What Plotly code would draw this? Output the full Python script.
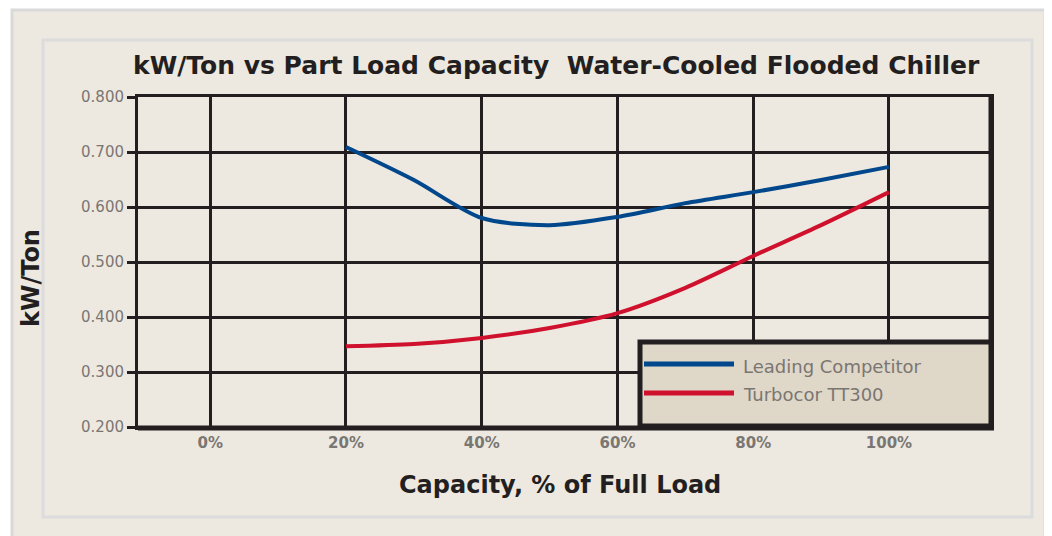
import plotly.graph_objects as go

# ---- data ----
capacity_pct = [20, 30, 40, 50, 60, 70, 80, 90, 100]
leading_competitor = [0.709, 0.649, 0.580, 0.567, 0.582, 0.607, 0.627, 0.649, 0.673]
turbocor_tt300 = [0.347, 0.351, 0.362, 0.380, 0.407, 0.453, 0.511, 0.567, 0.627]
series_names = ["Leading Competitor", "Turbocor TT300"]
x_ticks = [0, 20, 40, 60, 80, 100]
x_tick_labels = ["0%", "20%", "40%", "60%", "80%", "100%"]
y_ticks = [0.2, 0.3, 0.4, 0.5, 0.6, 0.7, 0.8]

title_text = "kW/Ton vs Part Load Capacity  Water-Cooled Flooded Chiller"
x_title = "Capacity, % of Full Load"
y_title = "kW/Ton"

BLUE = "#00478c"
RED = "#cf112d"
INK = "#231f20"
BEIGE = "#ede9e1"
LEG_BG = "#dfd7c8"
TICK_GRAY = "#7a7672"

# the page body has an 8px margin; the figure starts at (8, 8)
OFF = 8
W, H = 1052, 536
L, R, T, B = 138, 991, 97, 427


def px(x):
    return (x - L) / (R - L)


def py(y):
    return (B - y) / (B - T)


fig = go.Figure()
fig.add_trace(go.Scatter(x=capacity_pct, y=leading_competitor, mode="lines",
                         name=series_names[0],
                         line=dict(color=BLUE, width=4, shape="spline", smoothing=0.8)))
fig.add_trace(go.Scatter(x=capacity_pct, y=turbocor_tt300, mode="lines",
                         name=series_names[1],
                         line=dict(color=RED, width=4, shape="spline", smoothing=0.8)))

shapes = [
    # outer page frame
    dict(type="rect", xref="paper", yref="paper", x0=px(12), x1=px(1045), y0=py(545), y1=py(10),
         fillcolor=BEIGE, line=dict(color="#d9d9d9", width=3), layer="below"),
    # inner panel frame
    dict(type="rect", xref="paper", yref="paper", x0=px(43), x1=px(1032), y0=py(517), y1=py(40),
         fillcolor="rgba(0,0,0,0)", line=dict(color="#dcdcdc", width=3), layer="below"),
    # thicker bottom and right frame
    dict(type="line", xref="paper", yref="paper", x0=0, x1=px(994), y0=py(428), y1=py(428),
         line=dict(color=INK, width=5), layer="above"),
    dict(type="line", xref="paper", yref="paper", x0=px(991), x1=px(991), y0=py(430), y1=py(96),
         line=dict(color=INK, width=5), layer="above"),
    # legend box
    dict(type="rect", xref="paper", yref="paper", x0=px(640), x1=px(991), y0=py(426), y1=py(342),
         fillcolor=LEG_BG, line=dict(color=INK, width=5), layer="above"),
    dict(type="line", xref="paper", yref="paper", x0=px(644), x1=px(734), y0=py(364), y1=py(364),
         line=dict(color=BLUE, width=5), layer="above"),
    dict(type="line", xref="paper", yref="paper", x0=px(644), x1=px(734), y0=py(393), y1=py(393),
         line=dict(color=RED, width=5), layer="above"),
]

annotations = [
    dict(text=title_text, xref="paper", yref="paper", x=px(556), y=py(66), showarrow=False,
         font=dict(family="DejaVu Sans", size=25, color=INK, weight="bold"),
         xanchor="center", yanchor="middle"),
    dict(text=x_title, xref="paper", yref="paper", x=px(560), y=py(485), showarrow=False,
         font=dict(family="DejaVu Sans", size=24, color=INK, weight="bold"),
         xanchor="center", yanchor="middle"),
    dict(text=y_title, xref="paper", yref="paper", x=px(31), y=py(278), showarrow=False, textangle=-90,
         font=dict(family="DejaVu Sans", size=24, color=INK, weight="bold"),
         xanchor="center", yanchor="middle"),
    dict(text=series_names[0], xref="paper", yref="paper", x=px(741), y=py(366), showarrow=False,
         font=dict(family="DejaVu Sans", size=18, color=TICK_GRAY), xanchor="left", yanchor="middle"),
    dict(text=series_names[1], xref="paper", yref="paper", x=px(741), y=py(394), showarrow=False,
         font=dict(family="DejaVu Sans", size=18, color=TICK_GRAY), xanchor="left", yanchor="middle"),
]

fig.update_layout(
    width=W - OFF, height=H - OFF,
    margin=dict(l=L - OFF, r=W - R, t=T - OFF, b=H - B, pad=0),
    paper_bgcolor="white",
    plot_bgcolor=BEIGE,
    showlegend=False,
    shapes=shapes,
    annotations=annotations,
    font=dict(family="DejaVu Sans", color=TICK_GRAY),
)
fig.update_xaxes(range=[-10.64, 115.03], tickvals=x_ticks, ticktext=x_tick_labels,
                 showgrid=True, gridcolor=INK, gridwidth=3, zeroline=False,
                 showline=True, linecolor=INK, linewidth=3, mirror=True,
                 ticks="", tickfont=dict(size=15, color=TICK_GRAY, weight="bold"))
fig.update_yaxes(range=[0.2, 0.8], tickvals=y_ticks, tickformat=".3f",
                 showgrid=True, gridcolor=INK, gridwidth=3, zeroline=False,
                 showline=True, linecolor=INK, linewidth=3, mirror=True,
                 ticks="outside", ticklen=8, tickwidth=3, tickcolor=INK,
                 tickfont=dict(size=15, color=TICK_GRAY))

fig.write_html("out.html")
